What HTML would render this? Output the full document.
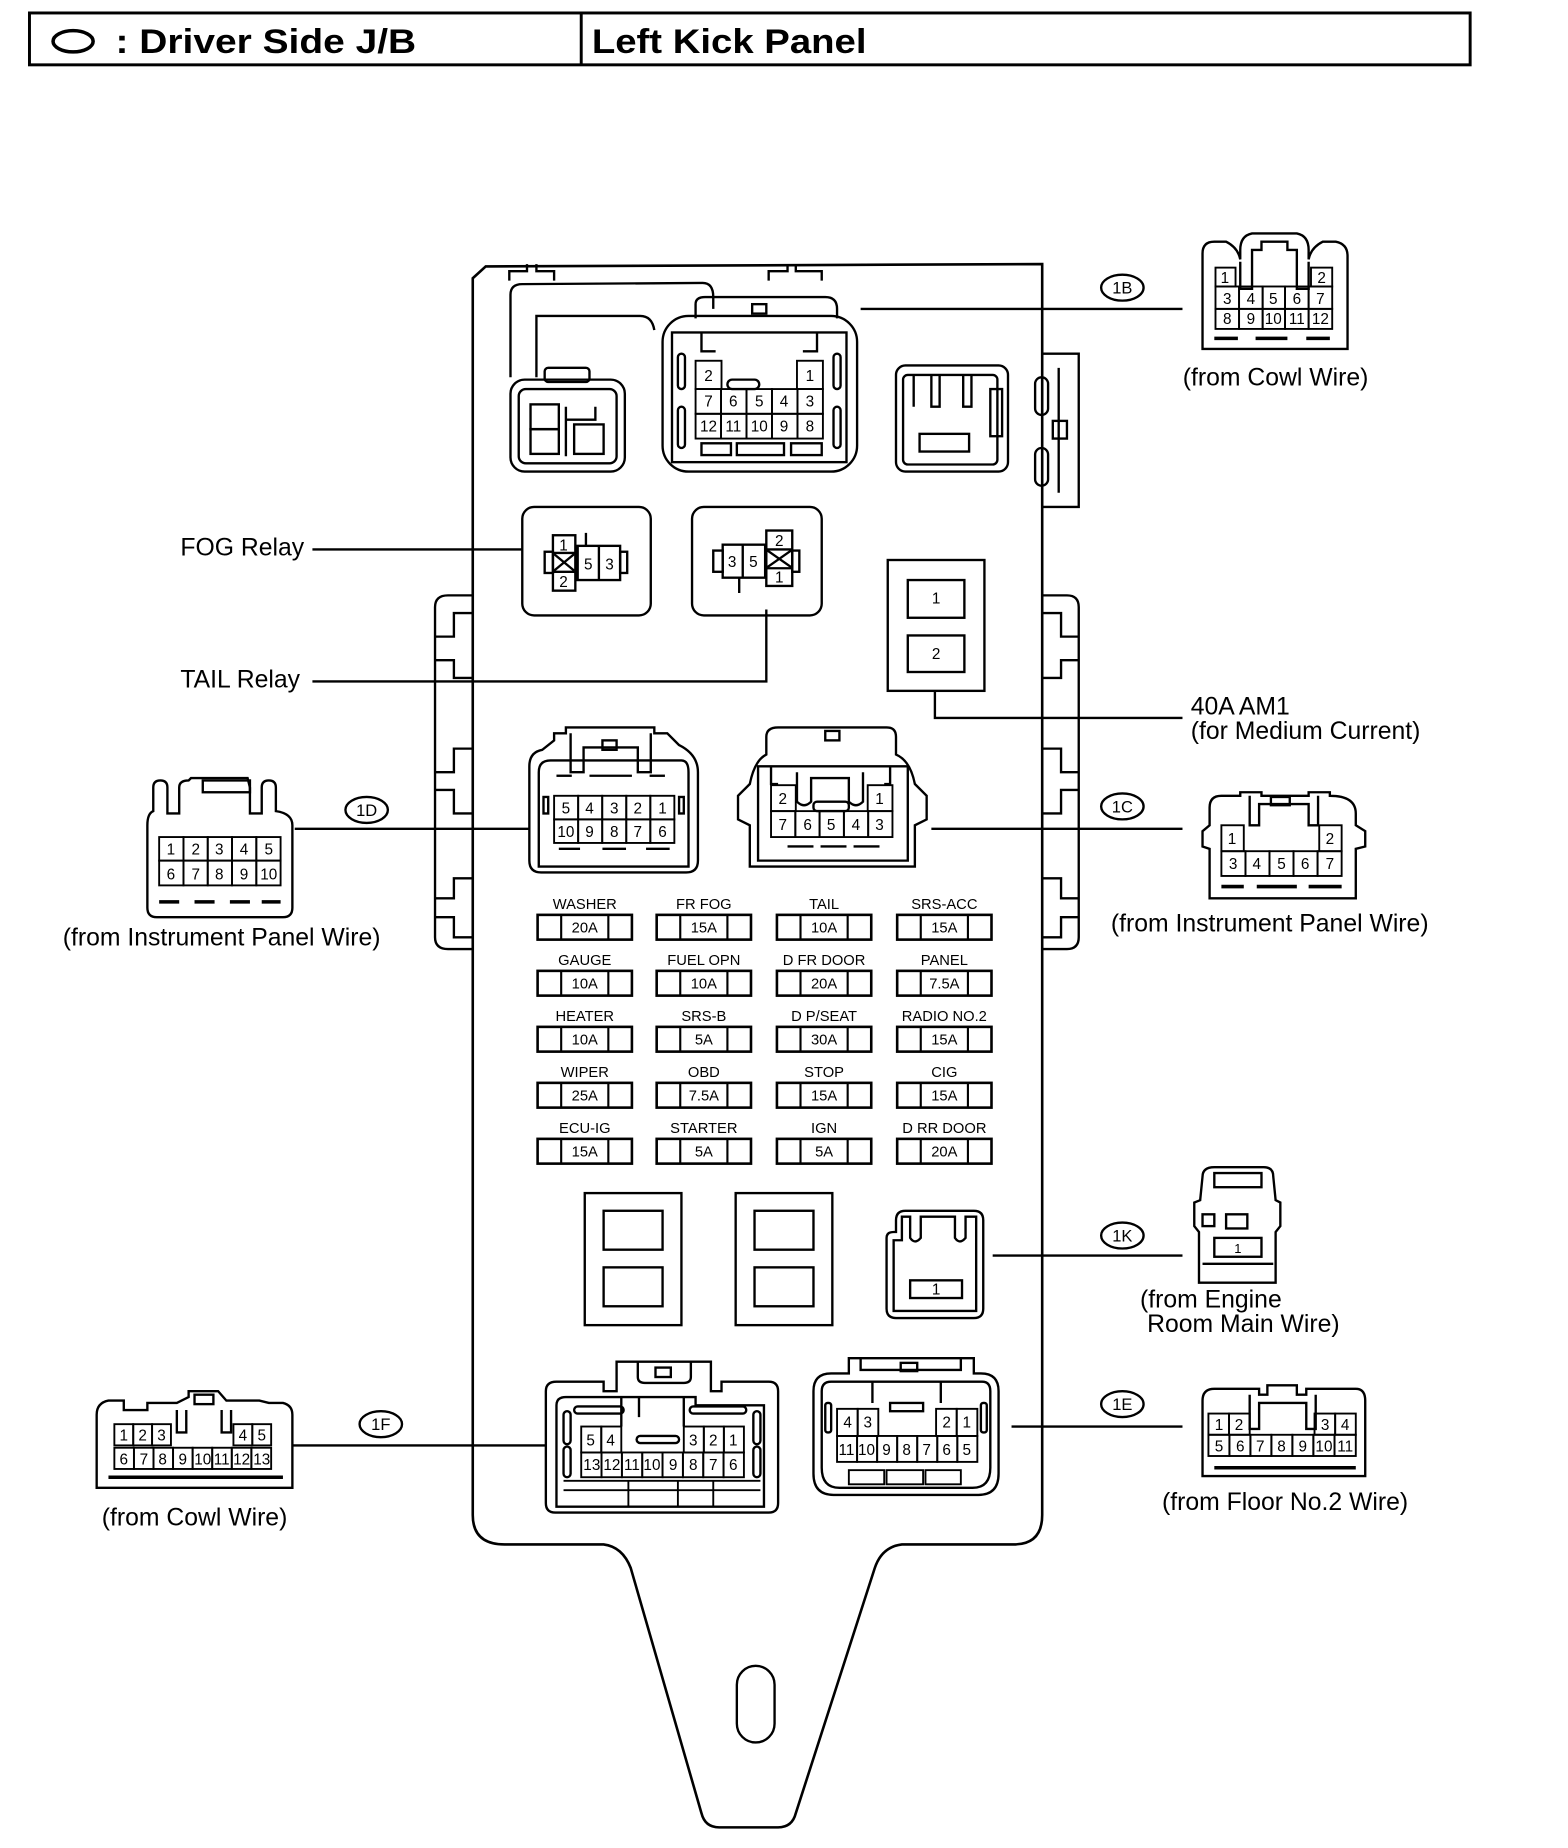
<!DOCTYPE html>
<html><head><meta charset="utf-8"><style>
html,body{margin:0;padding:0;background:#fff;}
svg{display:block;}
text{font-family:"Liberation Sans",sans-serif;fill:#000;}
.c{font-size:13px;text-anchor:middle;}
.l{font-size:21px;}
.f{font-size:12.5px;text-anchor:middle;}
</style></head><body>
<svg width="1568" height="1848" viewBox="0 0 1330 1567.5" xmlns="http://www.w3.org/2000/svg" fill="none" stroke="#000" stroke-width="2">
<!-- header -->
<rect x="25" y="11" width="1222" height="44" stroke-width="2.5"/>
<line x1="493" y1="11" x2="493" y2="55" stroke-width="2.5"/>
<ellipse cx="62" cy="35" rx="17" ry="9" stroke-width="3"/>
<text x="98" y="45" stroke="none" style="font-size:29px;font-weight:bold" textLength="255" lengthAdjust="spacingAndGlyphs">: Driver Side J/B</text>
<text x="502" y="45" stroke="none" style="font-size:29px;font-weight:bold" textLength="233" lengthAdjust="spacingAndGlyphs">Left Kick Panel</text>

<!-- main box -->
<path d="M401,1285 L401,236 L412,226 L884,224 L884,1285 Q884,1310 860,1310 L765,1310 Q748,1312 742,1330 L675,1538 Q672,1550 660,1550 L610,1550 Q598,1550 595,1538 L535,1330 Q528,1312 512,1310 L428,1310 Q401,1310 401,1285 Z" stroke-width="2.2"/>
<path d="M884,300 L915,300 L915,430 L884,430"/>
<line x1="898" y1="312" x2="898" y2="418"/>
<rect x="893" y="357" width="12" height="15"/>
<rect x="878" y="320" width="11" height="32" rx="5.5"/>
<rect x="878" y="380" width="11" height="32" rx="5.5"/>
<path d="M884,505 L905,505 Q915,505 915,515 L915,795 Q915,805 905,805 L884,805"/>
<path d="M884,520 L900,520 L900,540 L915,540 M915,560 L900,560 L900,575 L884,575"/>
<path d="M884,635 L900,635 L900,655 L915,655 M915,670 L900,670 L900,690 L884,690"/>
<path d="M884,745 L900,745 L900,762 L915,762 M915,778 L900,778 L900,795 L884,795"/>
<path d="M401,505 L380,505 Q369,505 369,515 L369,795 Q369,805 380,805 L401,805"/>
<path d="M401,520 L385,520 L385,540 L369,540 M369,560 L385,560 L385,575 L401,575"/>
<path d="M401,635 L385,635 L385,655 L369,655 M369,670 L385,670 L385,690 L401,690"/>
<path d="M401,745 L385,745 L385,762 L369,762 M369,778 L385,778 L385,795 L401,795"/>
<path d="M432,238 L432,230 L447,230 L447,224 M455,224 L455,230 L470,230 L470,238"/>
<path d="M652,238 L652,230 L668,230 L668,224 M675,224 L675,230 L697,230 L697,238"/>
<rect x="625" y="1413" width="32" height="65" rx="16"/>

<!-- top-left connector + wires -->
<path d="M433,320 L433,250 Q433,241 443,241 L596,240 Q605,240 605,252 L605,262"/>
<path d="M455,320 L455,268 L543,268 Q553,268 555,280"/>
<rect x="433" y="322" width="97" height="78" rx="12"/>
<rect x="440" y="330" width="83" height="63" rx="6"/>
<rect x="462" y="312" width="38" height="12" rx="3"/>
<rect x="450" y="343" width="24" height="21"/>
<rect x="450" y="364" width="24" height="21"/>
<rect x="487" y="360" width="25" height="25"/>
<path d="M480,345 L480,387 M480,356 L505,356 L505,345"/>

<!-- 1B in box -->
<rect x="562" y="268" width="165" height="132" rx="22"/>
<path d="M590,270 L590,258 Q590,252 598,252 L700,252 Q710,252 710,262 L710,270"/>
<rect x="638" y="258" width="12" height="8"/>
<rect x="570" y="282" width="148" height="110"/>
<rect x="575" y="300" width="6" height="30" rx="3"/><rect x="575" y="345" width="6" height="35" rx="3"/>
<rect x="707" y="300" width="6" height="30" rx="3"/><rect x="707" y="345" width="6" height="35" rx="3"/>
<path d="M595,282 L595,298 L607,298 M693,282 L693,298 L681,298"/>
<rect x="617" y="322" width="27" height="8" rx="4"/>
<rect x="595" y="376" width="25" height="10"/><rect x="625" y="376" width="40" height="10"/><rect x="671" y="376" width="26" height="10"/>
<g stroke-width="1.6">
<rect x="590" y="306" width="22" height="24"/><rect x="676" y="306" width="22" height="24"/>
<rect x="590" y="330" width="21.6" height="21"/><rect x="611.6" y="330" width="21.6" height="21"/><rect x="633.2" y="330" width="21.6" height="21"/><rect x="654.8" y="330" width="21.6" height="21"/><rect x="676.4" y="330" width="21.6" height="21"/>
<rect x="590" y="351" width="21.6" height="21"/><rect x="611.6" y="351" width="21.6" height="21"/><rect x="633.2" y="351" width="21.6" height="21"/><rect x="654.8" y="351" width="21.6" height="21"/><rect x="676.4" y="351" width="21.6" height="21"/>
</g>
<g stroke="none">
<text class="c" x="601" y="323">2</text><text class="c" x="687" y="323">1</text>
<text class="c" x="601" y="345">7</text><text class="c" x="622" y="345">6</text><text class="c" x="644" y="345">5</text><text class="c" x="665" y="345">4</text><text class="c" x="687" y="345">3</text>
<text class="c" x="601" y="366">12</text><text class="c" x="622" y="366">11</text><text class="c" x="644" y="366">10</text><text class="c" x="665" y="366">9</text><text class="c" x="687" y="366">8</text>
</g>

<!-- right-top component -->
<rect x="760" y="310" width="95" height="90" rx="8"/>
<rect x="766" y="318" width="80" height="76" rx="4"/>
<path d="M775,318 L775,345 M790,318 L790,345 L797,345 L797,318 M817,318 L817,345 L824,345 L824,318"/>
<rect x="780" y="368" width="42" height="15"/>
<rect x="840" y="330" width="10" height="40"/>

<!-- FOG relay -->
<rect x="443" y="430" width="109" height="92" rx="10"/>
<rect x="469" y="454" width="19" height="47"/>
<line x1="469" y1="469" x2="488" y2="469"/><line x1="469" y1="485" x2="488" y2="485"/>
<path d="M470,470 L487,484 M487,470 L470,484"/>
<rect x="490" y="463" width="36" height="29"/><line x1="508" y1="463" x2="508" y2="492"/>
<rect x="462" y="468" width="7" height="18"/><rect x="526" y="468" width="6" height="18"/>
<line x1="497" y1="452" x2="497" y2="463"/>
<g stroke="none"><text class="c" x="478" y="467">1</text><text class="c" x="478" y="498">2</text><text class="c" x="499" y="483">5</text><text class="c" x="517" y="483">3</text></g>
<line x1="265" y1="466" x2="443" y2="466"/>
<text class="l" x="153" y="471" stroke="none">FOG Relay</text>

<!-- TAIL relay -->
<rect x="587" y="430" width="110" height="92" rx="10"/>
<rect x="613" y="462" width="36" height="28"/><line x1="630" y1="462" x2="630" y2="490"/>
<rect x="650" y="450" width="22" height="47"/>
<line x1="650" y1="466" x2="672" y2="466"/><line x1="650" y1="482" x2="672" y2="482"/>
<path d="M651,467 L671,481 M671,467 L651,481"/>
<rect x="605" y="467" width="8" height="18"/><rect x="672" y="467" width="6" height="18"/>
<line x1="627" y1="490" x2="627" y2="503"/>
<g stroke="none"><text class="c" x="621" y="481">3</text><text class="c" x="639" y="481">5</text><text class="c" x="661" y="463">2</text><text class="c" x="661" y="494">1</text></g>
<path d="M265,578 L650,578 L650,517"/>
<text class="l" x="153" y="583" stroke="none">TAIL Relay</text>

<!-- 40A AM1 -->
<rect x="753" y="475" width="82" height="111"/>
<rect x="770" y="492" width="48" height="32"/><rect x="770" y="539" width="48" height="31"/>
<g stroke="none"><text class="c" x="794" y="512">1</text><text class="c" x="794" y="559">2</text></g>
<path d="M793,586 L793,609 L1003,609"/>
<text class="l" x="1010" y="606" stroke="none">40A AM1</text>
<text class="l" x="1010" y="627" stroke="none">(for Medium Current)</text>

<!-- 1D in box -->
<path d="M449,730 L449,650 Q449,638 460,636 L470,628 L470,622 L480,622 L480,617 L555,617 L555,622 L566,622 L576,632 Q592,640 592,655 L592,730 Q592,740 582,740 L459,740 Q449,740 449,730 Z"/>
<path d="M457,735 L457,655 Q457,645 467,645 L578,645 Q584,645 584,655 L584,735 Z"/>
<path d="M484,622 L484,655 L495,655 L495,634 L541,634 L541,655 L552,655 L552,622"/>
<rect x="511" y="628" width="12" height="8"/>
<line x1="472" y1="658" x2="485" y2="658"/><line x1="500" y1="658" x2="536" y2="658"/><line x1="551" y1="658" x2="564" y2="658"/>
<rect x="461" y="676" width="4" height="14"/><rect x="576" y="676" width="4" height="14"/>
<g stroke-width="1.6">
<rect x="470" y="675" width="20.4" height="20"/><rect x="490.4" y="675" width="20.4" height="20"/><rect x="510.8" y="675" width="20.4" height="20"/><rect x="531.2" y="675" width="20.4" height="20"/><rect x="551.6" y="675" width="20.4" height="20"/>
<rect x="470" y="695" width="20.4" height="20"/><rect x="490.4" y="695" width="20.4" height="20"/><rect x="510.8" y="695" width="20.4" height="20"/><rect x="531.2" y="695" width="20.4" height="20"/><rect x="551.6" y="695" width="20.4" height="20"/>
</g>
<line x1="474" y1="720" x2="492" y2="720"/><line x1="511" y1="720" x2="531" y2="720"/><line x1="548" y1="720" x2="568" y2="720"/>
<g stroke="none">
<text class="c" x="480" y="690">5</text><text class="c" x="500" y="690">4</text><text class="c" x="521" y="690">3</text><text class="c" x="541" y="690">2</text><text class="c" x="562" y="690">1</text>
<text class="c" x="480" y="710">10</text><text class="c" x="500" y="710">9</text><text class="c" x="521" y="710">8</text><text class="c" x="541" y="710">7</text><text class="c" x="562" y="710">6</text>
</g>
<line x1="250" y1="703" x2="449" y2="703"/>
<ellipse cx="311" cy="687" rx="18" ry="11"/><text class="c" x="311" y="692" stroke="none" style="font-size:14px">1D</text>

<!-- 1C in box -->
<path d="M636,735 L636,700 L626,695 L626,675 L636,665 Q640,645 650,640 L650,625 Q650,617 660,617 L752,617 Q760,617 760,625 L760,640 Q772,645 776,665 L786,675 L786,695 L776,700 L776,735 Z"/>
<path d="M643,730 L643,650 L770,650 L770,730 Z"/>
<rect x="700" y="620" width="12" height="8"/>
<path d="M654,650 L654,665 L660,665 M755,650 L755,665 L750,665"/>
<path d="M676,655 L676,680 Q682,686 688,680 L688,660 L720,660 L720,680 Q726,686 732,680 L732,655"/>
<rect x="690" y="680" width="30" height="8" rx="3"/>
<g stroke-width="1.6">
<rect x="654" y="666" width="21" height="22"/><rect x="736" y="666" width="21" height="22"/>
<rect x="654" y="688" width="20.6" height="22"/><rect x="674.6" y="688" width="20.6" height="22"/><rect x="695.2" y="688" width="20.6" height="22"/><rect x="715.8" y="688" width="20.6" height="22"/><rect x="736.4" y="688" width="20.6" height="22"/>
</g>
<line x1="668" y1="718" x2="690" y2="718"/><line x1="696" y1="718" x2="718" y2="718"/><line x1="724" y1="718" x2="746" y2="718"/>
<g stroke="none">
<text class="c" x="664" y="682">2</text><text class="c" x="746" y="682">1</text>
<text class="c" x="664" y="704">7</text><text class="c" x="685" y="704">6</text><text class="c" x="705" y="704">5</text><text class="c" x="726" y="704">4</text><text class="c" x="746" y="704">3</text>
</g>
<line x1="790" y1="703" x2="1003" y2="703"/>
<ellipse cx="952" cy="684" rx="18" ry="11"/><text class="c" x="952" y="689" stroke="none" style="font-size:14px">1C</text>

<line x1="730" y1="262" x2="1003" y2="262"/>
<ellipse cx="952" cy="244" rx="18" ry="11"/><text class="c" x="952" y="249" stroke="none" style="font-size:14px">1B</text>

<!-- FUSES -->
<g stroke-width="2.2">
<rect x="456" y="776" width="80" height="21"/><rect x="557" y="776" width="80" height="21"/><rect x="659" y="776" width="80" height="21"/><rect x="761" y="776" width="80" height="21"/>
<rect x="456" y="823.5" width="80" height="21"/><rect x="557" y="823.5" width="80" height="21"/><rect x="659" y="823.5" width="80" height="21"/><rect x="761" y="823.5" width="80" height="21"/>
<rect x="456" y="871" width="80" height="21"/><rect x="557" y="871" width="80" height="21"/><rect x="659" y="871" width="80" height="21"/><rect x="761" y="871" width="80" height="21"/>
<rect x="456" y="918.5" width="80" height="21"/><rect x="557" y="918.5" width="80" height="21"/><rect x="659" y="918.5" width="80" height="21"/><rect x="761" y="918.5" width="80" height="21"/>
<rect x="456" y="966" width="80" height="21"/><rect x="557" y="966" width="80" height="21"/><rect x="659" y="966" width="80" height="21"/><rect x="761" y="966" width="80" height="21"/>
</g>
<path stroke-width="1.8" d="
M476,776v21M516,776v21M577,776v21M617,776v21M679,776v21M719,776v21M781,776v21M821,776v21
M476,823.5v21M516,823.5v21M577,823.5v21M617,823.5v21M679,823.5v21M719,823.5v21M781,823.5v21M821,823.5v21
M476,871v21M516,871v21M577,871v21M617,871v21M679,871v21M719,871v21M781,871v21M821,871v21
M476,918.5v21M516,918.5v21M577,918.5v21M617,918.5v21M679,918.5v21M719,918.5v21M781,918.5v21M821,918.5v21
M476,966v21M516,966v21M577,966v21M617,966v21M679,966v21M719,966v21M781,966v21M821,966v21"/>
<g stroke="none">
<text class="f" x="496" y="771">WASHER</text><text class="f" x="597" y="771">FR FOG</text><text class="f" x="699" y="771">TAIL</text><text class="f" x="801" y="771">SRS-ACC</text>
<text class="f" x="496" y="791">20A</text><text class="f" x="597" y="791">15A</text><text class="f" x="699" y="791">10A</text><text class="f" x="801" y="791">15A</text>
<text class="f" x="496" y="818.5">GAUGE</text><text class="f" x="597" y="818.5">FUEL OPN</text><text class="f" x="699" y="818.5">D FR DOOR</text><text class="f" x="801" y="818.5">PANEL</text>
<text class="f" x="496" y="838.5">10A</text><text class="f" x="597" y="838.5">10A</text><text class="f" x="699" y="838.5">20A</text><text class="f" x="801" y="838.5">7.5A</text>
<text class="f" x="496" y="866">HEATER</text><text class="f" x="597" y="866">SRS-B</text><text class="f" x="699" y="866">D P/SEAT</text><text class="f" x="801" y="866">RADIO NO.2</text>
<text class="f" x="496" y="886">10A</text><text class="f" x="597" y="886">5A</text><text class="f" x="699" y="886">30A</text><text class="f" x="801" y="886">15A</text>
<text class="f" x="496" y="913.5">WIPER</text><text class="f" x="597" y="913.5">OBD</text><text class="f" x="699" y="913.5">STOP</text><text class="f" x="801" y="913.5">CIG</text>
<text class="f" x="496" y="933.5">25A</text><text class="f" x="597" y="933.5">7.5A</text><text class="f" x="699" y="933.5">15A</text><text class="f" x="801" y="933.5">15A</text>
<text class="f" x="496" y="961">ECU-IG</text><text class="f" x="597" y="961">STARTER</text><text class="f" x="699" y="961">IGN</text><text class="f" x="801" y="961">D RR DOOR</text>
<text class="f" x="496" y="981">15A</text><text class="f" x="597" y="981">5A</text><text class="f" x="699" y="981">5A</text><text class="f" x="801" y="981">20A</text>
</g>

<!-- lower relay boxes -->
<rect x="496" y="1012" width="82" height="112"/>
<rect x="512" y="1027" width="50" height="33"/><rect x="512" y="1075" width="50" height="33"/>
<rect x="624" y="1012" width="82" height="112"/>
<rect x="640" y="1027" width="50" height="33"/><rect x="640" y="1075" width="50" height="33"/>
<!-- 1K in box -->
<path d="M752,1110 L752,1050 Q752,1045 758,1045 L760,1045 L760,1035 Q760,1027 768,1027 L826,1027 Q834,1027 834,1035 L834,1110 Q834,1118 826,1118 L760,1118 Q752,1118 752,1110 Z"/>
<path d="M758,1112 L758,1052 L765,1052 L765,1032 L772,1032 L772,1050 Q776,1056 781,1050 L781,1032 L810,1032 L810,1050 Q814,1056 819,1050 L819,1032 L828,1032 L828,1112 Z"/>
<rect x="772" y="1086" width="44" height="15"/><text class="c" x="794" y="1098" stroke="none">1</text>
<line x1="842" y1="1065" x2="1003" y2="1065"/>
<ellipse cx="952" cy="1048" rx="18" ry="11"/><text class="c" x="952" y="1053" stroke="none" style="font-size:14px">1K</text>

<!-- 1F in box -->
<path d="M463,1275 L463,1180 Q463,1172 472,1172 L512,1172 L512,1180 L523,1180 L523,1155 L603,1155 L603,1180 L612,1180 L612,1172 L652,1172 Q660,1172 660,1180 L660,1275 Q660,1283 652,1283 L471,1283 Q463,1283 463,1275 Z"/>
<path d="M472,1278 L472,1192 Q472,1185 480,1185 L590,1185 L590,1192 L648,1192 L648,1278 Z"/>
<path d="M541,1155 L541,1168 Q541,1173 547,1173 L580,1173 Q586,1173 586,1168 L586,1155"/>
<rect x="556" y="1160" width="13" height="8"/>
<path d="M527,1185 L527,1210 M580,1185 L580,1210 M542,1185 L542,1202"/>
<rect x="487" y="1193" width="42" height="6" rx="3"/><rect x="585" y="1193" width="48" height="6" rx="3"/>
<rect x="540" y="1218" width="36" height="6" rx="3"/>
<rect x="478" y="1197" width="6" height="28" rx="3"/><rect x="478" y="1227" width="6" height="26" rx="3"/>
<rect x="639" y="1197" width="6" height="28" rx="3"/><rect x="639" y="1227" width="6" height="26" rx="3"/>
<g stroke-width="1.6">
<rect x="493" y="1210" width="17" height="22"/><rect x="510" y="1210" width="17" height="22"/>
<rect x="580" y="1210" width="17" height="22"/><rect x="597" y="1210" width="17" height="22"/><rect x="614" y="1210" width="17" height="22"/>
<rect x="493" y="1232" width="17.25" height="21"/><rect x="510.25" y="1232" width="17.25" height="21"/><rect x="527.5" y="1232" width="17.25" height="21"/><rect x="544.75" y="1232" width="17.25" height="21"/><rect x="562" y="1232" width="17.25" height="21"/><rect x="579.25" y="1232" width="17.25" height="21"/><rect x="596.5" y="1232" width="17.25" height="21"/><rect x="613.75" y="1232" width="17.25" height="21"/>
<path d="M478,1256 L645,1256 M478,1264 L645,1264 M533,1256 L533,1278 M575,1256 L575,1278 M605,1256 L605,1278"/>
</g>
<g stroke="none" style="font-size:12.5px">
<text class="c" x="501" y="1226">5</text><text class="c" x="518" y="1226">4</text><text class="c" x="588" y="1226">3</text><text class="c" x="605" y="1226">2</text><text class="c" x="622" y="1226">1</text>
<text class="c" x="502" y="1247">13</text><text class="c" x="519" y="1247">12</text><text class="c" x="536" y="1247">11</text><text class="c" x="553" y="1247">10</text><text class="c" x="571" y="1247">9</text><text class="c" x="588" y="1247">8</text><text class="c" x="605" y="1247">7</text><text class="c" x="622" y="1247">6</text>
</g>
<line x1="248" y1="1226" x2="463" y2="1226"/>
<ellipse cx="323" cy="1208" rx="18" ry="11"/><text class="c" x="323" y="1213" stroke="none" style="font-size:14px">1F</text>

<!-- 1E in box -->
<path d="M690,1250 L690,1180 Q690,1165 705,1165 L720,1165 L720,1152 L826,1152 L826,1165 L832,1165 Q847,1165 847,1180 L847,1250 Q847,1268 830,1268 L707,1268 Q690,1268 690,1250 Z"/>
<path d="M697,1245 L697,1180 Q697,1172 705,1172 L833,1172 Q840,1172 840,1180 L840,1245 Q840,1262 825,1262 L712,1262 Q697,1262 697,1245 Z"/>
<path d="M730,1152 L730,1162 L815,1162 L815,1152"/><rect x="764" y="1156" width="14" height="7"/>
<path d="M740,1172 L740,1190 M798,1172 L798,1190"/>
<rect x="755" y="1190" width="28" height="7"/>
<rect x="700" y="1190" width="5" height="25" rx="2"/><rect x="832" y="1190" width="5" height="25" rx="2"/>
<g stroke-width="1.6">
<rect x="710" y="1195" width="17.5" height="23"/><rect x="727.5" y="1195" width="17.5" height="23"/><rect x="794" y="1195" width="17.5" height="23"/><rect x="811.5" y="1195" width="17.5" height="23"/>
<rect x="710" y="1218" width="17" height="22"/><rect x="727" y="1218" width="17" height="22"/><rect x="744" y="1218" width="17" height="22"/><rect x="761" y="1218" width="17" height="22"/><rect x="778" y="1218" width="17" height="22"/><rect x="795" y="1218" width="17" height="22"/><rect x="812" y="1218" width="17" height="22"/>
<rect x="720" y="1247" width="30" height="12"/><rect x="752" y="1247" width="31" height="12"/><rect x="785" y="1247" width="30" height="12"/>
</g>
<g stroke="none" style="font-size:12.5px">
<text class="c" x="719" y="1211">4</text><text class="c" x="736" y="1211">3</text><text class="c" x="803" y="1211">2</text><text class="c" x="820" y="1211">1</text>
<text class="c" x="718" y="1234">11</text><text class="c" x="735" y="1234">10</text><text class="c" x="752" y="1234">9</text><text class="c" x="769" y="1234">8</text><text class="c" x="786" y="1234">7</text><text class="c" x="803" y="1234">6</text><text class="c" x="820" y="1234">5</text>
</g>
<line x1="858" y1="1210" x2="1003" y2="1210"/>
<ellipse cx="952" cy="1191" rx="18" ry="11"/><text class="c" x="952" y="1196" stroke="none" style="font-size:14px">1E</text>

<!-- EXTERNAL 1B -->
<path d="M1020,296 L1020,215 Q1020,205 1030,205 L1040,205 Q1050,210 1052,220 L1052,212 Q1052,200 1062,198 L1100,198 Q1110,200 1110,212 L1110,220 Q1112,210 1122,205 L1133,205 Q1143,207 1143,217 L1143,296 Z"/>
<path d="M1052,222 L1052,245 L1062,245 L1062,212 L1070,212 L1070,205 L1092,205 L1092,212 L1100,212 L1100,245 L1110,245 L1110,222"/>
<g stroke-width="1.6">
<rect x="1031" y="227" width="17" height="16"/><rect x="1112" y="227" width="18" height="16"/>
<rect x="1031" y="243" width="20" height="19"/><rect x="1051" y="243" width="20" height="19"/><rect x="1071" y="243" width="19" height="19"/><rect x="1090" y="243" width="20" height="19"/><rect x="1110" y="243" width="20" height="19"/>
<rect x="1031" y="262" width="20" height="17"/><rect x="1051" y="262" width="20" height="17"/><rect x="1071" y="262" width="19" height="17"/><rect x="1090" y="262" width="20" height="17"/><rect x="1110" y="262" width="20" height="17"/>
</g>
<path d="M1030,287 L1050,287 M1065,287 L1092,287 M1108,287 L1128,287" stroke-width="3"/>
<g stroke="none" style="font-size:12.5px">
<text class="c" x="1039" y="240">1</text><text class="c" x="1121" y="240">2</text>
<text class="c" x="1041" y="258">3</text><text class="c" x="1061" y="258">4</text><text class="c" x="1080" y="258">5</text><text class="c" x="1100" y="258">6</text><text class="c" x="1120" y="258">7</text>
<text class="c" x="1041" y="275">8</text><text class="c" x="1061" y="275">9</text><text class="c" x="1080" y="275">10</text><text class="c" x="1100" y="275">11</text><text class="c" x="1120" y="275">12</text>
</g>
<text class="l" x="1082" y="327" text-anchor="middle" stroke="none">(from Cowl Wire)</text>

<!-- EXTERNAL 1D -->
<path d="M125,770 L125,700 Q125,690 130,688 L130,668 Q130,662 136,662 Q142,662 142,668 L142,690 L152,690 L152,668 Q152,662 160,662 L162,660 L210,660 L212,668 L212,690 L222,690 L222,668 Q222,662 228,662 Q234,662 234,668 L234,688 Q248,690 248,700 L248,770 Q248,778 240,778 L133,778 Q125,778 125,770 Z"/>
<rect x="172" y="662" width="40" height="10"/>
<g stroke-width="1.6">
<rect x="135" y="710" width="20.6" height="20"/><rect x="155.6" y="710" width="20.6" height="20"/><rect x="176.2" y="710" width="20.6" height="20"/><rect x="196.8" y="710" width="20.6" height="20"/><rect x="217.4" y="710" width="20.6" height="20"/>
<rect x="135" y="730" width="20.6" height="21"/><rect x="155.6" y="730" width="20.6" height="21"/><rect x="176.2" y="730" width="20.6" height="21"/><rect x="196.8" y="730" width="20.6" height="21"/><rect x="217.4" y="730" width="20.6" height="21"/>
</g>
<path d="M135,765 L152,765 M165,765 L182,765 M195,765 L212,765 M222,765 L238,765" stroke-width="3"/>
<g stroke="none" style="font-size:12.5px">
<text class="c" x="145" y="725">1</text><text class="c" x="166" y="725">2</text><text class="c" x="186" y="725">3</text><text class="c" x="207" y="725">4</text><text class="c" x="228" y="725">5</text>
<text class="c" x="145" y="746">6</text><text class="c" x="166" y="746">7</text><text class="c" x="186" y="746">8</text><text class="c" x="207" y="746">9</text><text class="c" x="228" y="746">10</text>
</g>
<text class="l" x="188" y="802" text-anchor="middle" stroke="none">(from Instrument Panel Wire)</text>

<!-- EXTERNAL 1C -->
<path d="M1026,762 L1026,720 L1020,718 L1020,705 L1026,700 L1026,685 Q1026,675 1036,675 L1052,675 L1052,672 L1070,672 L1070,675 L1110,675 L1110,672 L1128,672 L1128,675 Q1150,675 1150,690 L1150,700 L1158,705 L1158,718 L1150,720 L1150,762 Z"/>
<path d="M1060,675 L1060,700 L1068,700 L1068,682 L1110,682 L1110,700 L1118,700 L1118,675"/>
<rect x="1078" y="676" width="16" height="7"/>
<g stroke-width="1.6">
<rect x="1036" y="700" width="19" height="22"/><rect x="1119" y="700" width="19" height="22"/>
<rect x="1036" y="722" width="20.4" height="21"/><rect x="1056.4" y="722" width="20.4" height="21"/><rect x="1076.8" y="722" width="20.4" height="21"/><rect x="1097.2" y="722" width="20.4" height="21"/><rect x="1117.6" y="722" width="20.4" height="21"/>
</g>
<path d="M1036,752 L1055,752 M1066,752 L1100,752 M1110,752 L1138,752" stroke-width="3"/>
<g stroke="none" style="font-size:12.5px">
<text class="c" x="1045" y="716">1</text><text class="c" x="1128" y="716">2</text>
<text class="c" x="1046" y="737">3</text><text class="c" x="1066" y="737">4</text><text class="c" x="1087" y="737">5</text><text class="c" x="1107" y="737">6</text><text class="c" x="1128" y="737">7</text>
</g>
<text class="l" x="1077" y="790" text-anchor="middle" stroke="none">(from Instrument Panel Wire)</text>

<!-- EXTERNAL 1K -->
<path d="M1017,1088 L1017,1045 L1013,1040 L1013,1020 L1018,1018 L1020,998 Q1020,990 1030,990 L1072,990 Q1080,990 1080,998 L1082,1018 L1086,1020 L1086,1040 L1082,1045 L1082,1088 Z"/>
<rect x="1030" y="995" width="40" height="12"/>
<rect x="1040" y="1030" width="18" height="12"/><rect x="1020" y="1030" width="10" height="10"/>
<rect x="1030" y="1050" width="40" height="16"/><text class="c" x="1050" y="1063" stroke="none" style="font-size:11px">1</text>
<line x1="1020" y1="1072" x2="1080" y2="1072"/>
<text class="l" x="967" y="1109" stroke="none">(from Engine</text>
<text class="l" x="973" y="1130" stroke="none">Room Main Wire)</text>

<!-- EXTERNAL 1E -->
<path d="M1020,1252 L1020,1188 Q1020,1178 1030,1178 L1068,1178 L1068,1183 L1075,1183 L1075,1175 L1100,1175 L1100,1183 L1108,1183 L1108,1178 L1150,1178 Q1158,1178 1158,1188 L1158,1252 Z"/>
<path d="M1060,1183 L1060,1212 L1068,1212 L1068,1190 L1108,1190 L1108,1212 L1116,1212 L1116,1183"/>
<g stroke-width="1.6">
<rect x="1025" y="1199" width="17.5" height="18"/><rect x="1042.5" y="1199" width="17.5" height="18"/><rect x="1115" y="1199" width="17.5" height="18"/><rect x="1132.5" y="1199" width="17.5" height="18"/>
<rect x="1025" y="1217" width="17.8" height="18"/><rect x="1042.8" y="1217" width="17.8" height="18"/><rect x="1060.6" y="1217" width="17.8" height="18"/><rect x="1078.4" y="1217" width="17.8" height="18"/><rect x="1096.2" y="1217" width="17.8" height="18"/><rect x="1114" y="1217" width="18" height="18"/><rect x="1132" y="1217" width="18" height="18"/>
</g>
<path d="M1030,1245 L1150,1245" stroke-width="3"/>
<g stroke="none" style="font-size:12.5px">
<text class="c" x="1034" y="1213">1</text><text class="c" x="1051" y="1213">2</text><text class="c" x="1124" y="1213">3</text><text class="c" x="1141" y="1213">4</text>
<text class="c" x="1034" y="1231">5</text><text class="c" x="1052" y="1231">6</text><text class="c" x="1069" y="1231">7</text><text class="c" x="1087" y="1231">8</text><text class="c" x="1105" y="1231">9</text><text class="c" x="1123" y="1231">10</text><text class="c" x="1141" y="1231">11</text>
</g>
<text class="l" x="1090" y="1281" text-anchor="middle" stroke="none">(from Floor No.2 Wire)</text>

<!-- EXTERNAL 1F -->
<path d="M82,1262 L82,1200 Q82,1190 92,1188 L105,1188 L105,1196 L125,1196 L125,1190 L150,1190 L160,1185 L160,1180 L185,1180 L192,1188 L220,1188 L228,1190 L240,1190 Q248,1192 248,1200 L248,1262 Z"/>
<path d="M150,1196 L150,1215 L158,1215 L158,1196 M188,1196 L188,1215 L196,1215 L196,1196"/>
<rect x="165" y="1183" width="16" height="8"/>
<g stroke-width="1.6">
<rect x="97" y="1208" width="16" height="18"/><rect x="113" y="1208" width="16" height="18"/><rect x="129" y="1208" width="16" height="18"/>
<rect x="198" y="1208" width="16" height="18"/><rect x="214" y="1208" width="16" height="18"/>
<rect x="97" y="1228" width="16.6" height="18"/><rect x="113.6" y="1228" width="16.6" height="18"/><rect x="130.2" y="1228" width="16.6" height="18"/><rect x="146.8" y="1228" width="16.6" height="18"/><rect x="163.4" y="1228" width="16.6" height="18"/><rect x="180" y="1228" width="16.6" height="18"/><rect x="196.6" y="1228" width="16.6" height="18"/><rect x="213.2" y="1228" width="16.8" height="18"/>
</g>
<path d="M92,1253 L240,1253" stroke-width="3"/>
<g stroke="none" style="font-size:12px">
<text class="c" x="105" y="1222">1</text><text class="c" x="121" y="1222">2</text><text class="c" x="137" y="1222">3</text><text class="c" x="206" y="1222">4</text><text class="c" x="222" y="1222">5</text>
<text class="c" x="105" y="1242">6</text><text class="c" x="122" y="1242">7</text><text class="c" x="138" y="1242">8</text><text class="c" x="155" y="1242">9</text><text class="c" x="172" y="1242">10</text><text class="c" x="188" y="1242">11</text><text class="c" x="205" y="1242">12</text><text class="c" x="222" y="1242">13</text>
</g>
<text class="l" x="165" y="1294" text-anchor="middle" stroke="none">(from Cowl Wire)</text>
</svg>
</body></html>
